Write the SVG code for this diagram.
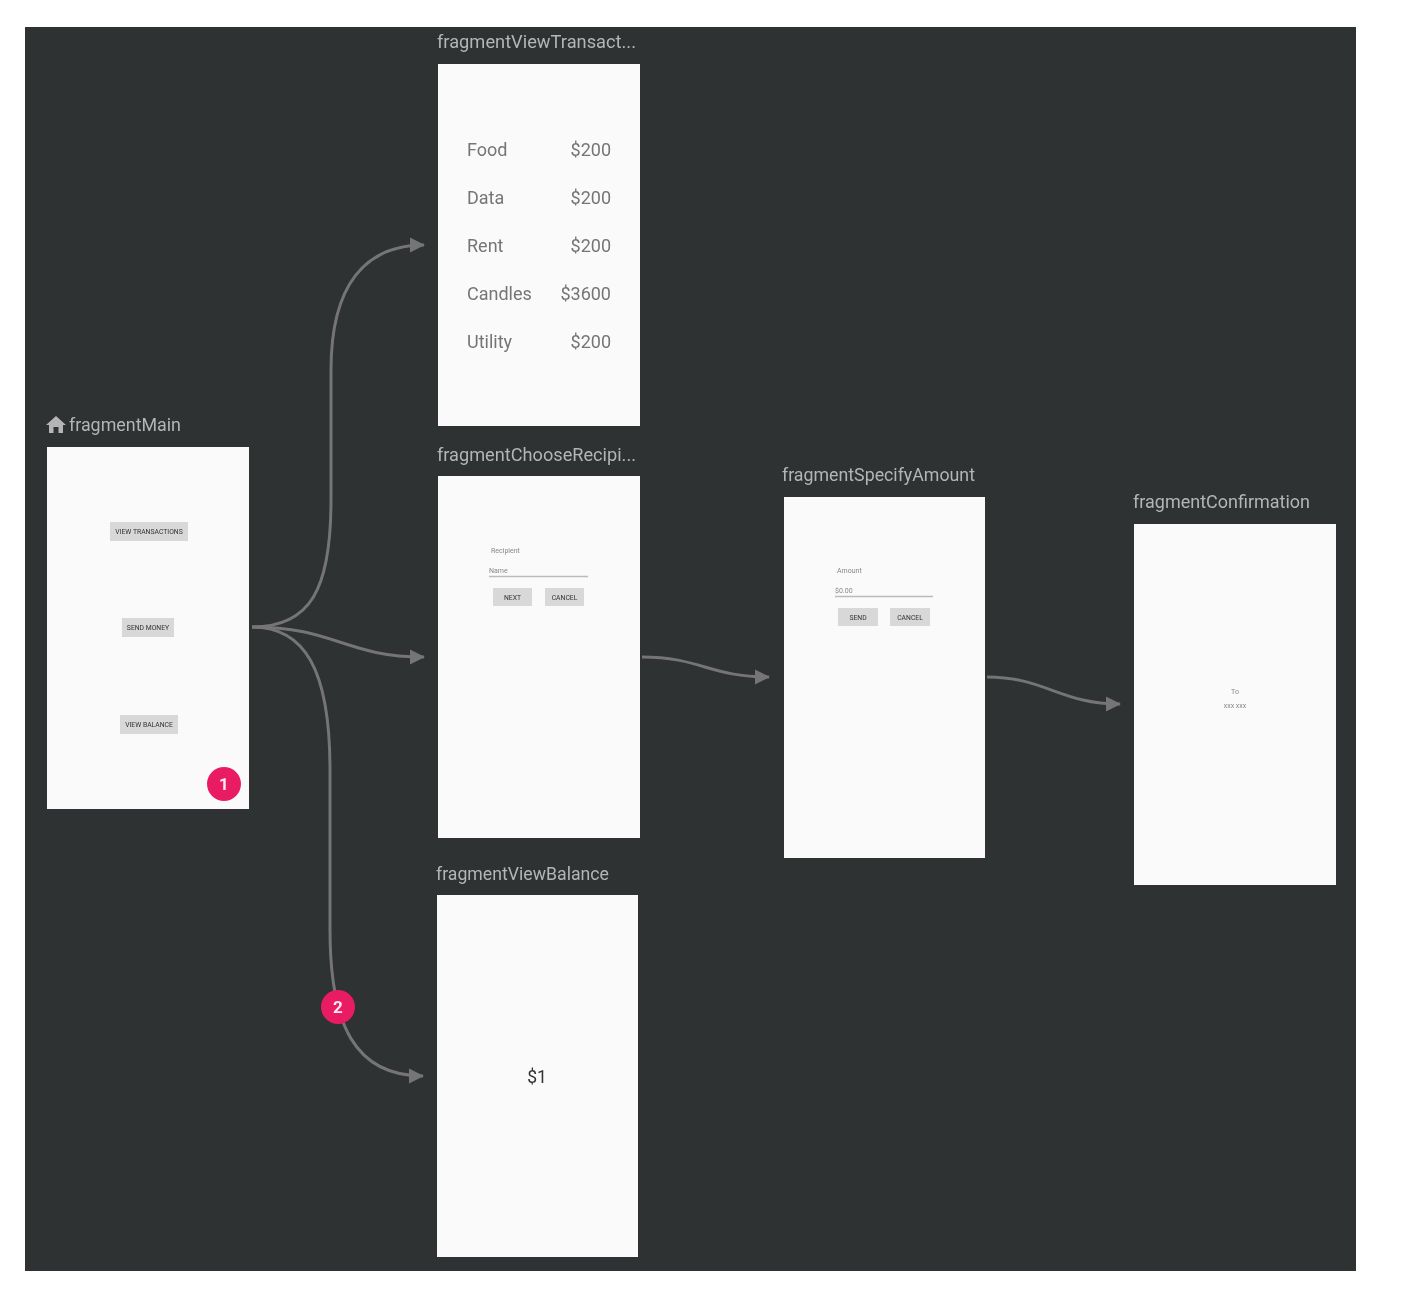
<svg xmlns="http://www.w3.org/2000/svg" width="1411" height="1292" viewBox="0 0 1411 1292">
<style>
text{font-family:Roboto,"Liberation Sans",sans-serif}
.screen{fill:#fafafa}
.title{fill:#b4b5b6;font-size:17.5px}
.row{fill:#757575;font-size:18px}
.btn{fill:#d8d8d8}
.btxt{fill:#333;font-size:6.8px;text-anchor:middle}
.small{fill:#888;font-size:7px}
.line{stroke:#bbb;stroke-width:1.3}
.conn{fill:none;stroke:#757575;stroke-width:3;marker-end:url(#arrow)}
.badge{fill:#e91e63}
.num{fill:#fbe9ef;font-size:17px;font-weight:700;text-anchor:middle}
</style>
<defs>
<marker id="arrow" markerUnits="userSpaceOnUse" markerWidth="16" markerHeight="16" refX="14" refY="8" orient="auto"><path d="M0 0.500L15 8L0 15.500Z" fill="#757575"/></marker>
<filter id="soft" x="-2%" y="-2%" width="104%" height="104%"><feGaussianBlur stdDeviation="0.7"/></filter>
</defs>
<rect width="1411" height="1292" fill="#ffffff"/>
<g filter="url(#soft)">
<rect id="canvas" x="25" y="27" width="1331" height="1244" fill="#2f3032"/>
<g id="connectors">
<path class="conn" d="M252 627C310 627 331 590 331 500V370C331 285 365 245 424 245"/>
<path class="conn" d="M252 627C335 627 345 657 424 657"/>
<path class="conn" d="M252 627C305 627 330 670 330 770V930C330 1025 355 1076 423 1076"/>
<path class="conn" d="M642 657C700 657 710 677 769 677"/>
<path class="conn" d="M987 677C1045 677 1060 704 1120 704"/>
</g>
<g id="fragmentMain">
<path d="M46 425L56 416L66 425H63V433H58.500V427H53.500V433H49V425Z" fill="#b4b5b6"/>
<text class="title" x="69" y="431" textLength="112" lengthAdjust="spacingAndGlyphs">fragmentMain</text>
<rect class="screen" x="47" y="447" width="202" height="362"/>
<rect class="btn" x="110" y="522" width="78" height="19"/>
<text class="btxt" x="149" y="534">VIEW TRANSACTIONS</text>
<rect class="btn" x="122" y="618" width="52" height="19"/>
<text class="btxt" x="148" y="630">SEND MONEY</text>
<rect class="btn" x="120" y="715" width="58" height="19"/>
<text class="btxt" x="149" y="727">VIEW BALANCE</text>
<circle class="badge" cx="224" cy="784" r="17"/>
<text class="num" x="224" y="790">1</text>
</g>
<g id="fragmentViewTransactions">
<text class="title" x="437" y="48" textLength="199" lengthAdjust="spacingAndGlyphs">fragmentViewTransact...</text>
<rect class="screen" x="438" y="64" width="202" height="362"/>
<text class="row" x="467" y="156">Food</text><text class="row" x="611" y="156" text-anchor="end">$200</text>
<text class="row" x="467" y="204">Data</text><text class="row" x="611" y="204" text-anchor="end">$200</text>
<text class="row" x="467" y="252">Rent</text><text class="row" x="611" y="252" text-anchor="end">$200</text>
<text class="row" x="467" y="300">Candles</text><text class="row" x="611" y="300" text-anchor="end">$3600</text>
<text class="row" x="467" y="348">Utility</text><text class="row" x="611" y="348" text-anchor="end">$200</text>
</g>
<g id="fragmentChooseRecipient">
<text class="title" x="437" y="461" textLength="199" lengthAdjust="spacingAndGlyphs">fragmentChooseRecipi...</text>
<rect class="screen" x="438" y="476" width="202" height="362"/>
<text class="small" x="491" y="553">Recipient</text>
<text class="small" x="489" y="573">Name</text>
<line class="line" x1="489" y1="576.500" x2="588" y2="576.500"/>
<rect class="btn" x="493" y="588" width="39" height="18"/>
<text class="btxt" x="512.500" y="599.500">NEXT</text>
<rect class="btn" x="545" y="588" width="39" height="18"/>
<text class="btxt" x="564.500" y="599.500">CANCEL</text>
</g>
<g id="fragmentViewBalance">
<text class="title" x="436" y="880" textLength="173" lengthAdjust="spacingAndGlyphs">fragmentViewBalance</text>
<rect class="screen" x="437" y="895" width="201" height="362"/>
<text x="537" y="1083" fill="#333" font-size="17.500" text-anchor="middle">$1</text>
</g>
<g id="fragmentSpecifyAmount">
<text class="title" x="782" y="481" textLength="193" lengthAdjust="spacingAndGlyphs">fragmentSpecifyAmount</text>
<rect class="screen" x="784" y="497" width="201" height="361"/>
<text class="small" x="837" y="573">Amount</text>
<text class="small" x="835" y="593">$0.00</text>
<line class="line" x1="835" y1="596.500" x2="933" y2="596.500"/>
<rect class="btn" x="838" y="608" width="40" height="18"/>
<text class="btxt" x="858" y="619.500">SEND</text>
<rect class="btn" x="890" y="608" width="40" height="18"/>
<text class="btxt" x="910" y="619.500">CANCEL</text>
</g>
<g id="fragmentConfirmation">
<text class="title" x="1133" y="508" textLength="177" lengthAdjust="spacingAndGlyphs">fragmentConfirmation</text>
<rect class="screen" x="1134" y="524" width="202" height="361"/>
<text class="small" x="1235" y="694" text-anchor="middle">To</text>
<text class="small" x="1235" y="708" text-anchor="middle">xxx xxx</text>
</g>
<g id="badge2">
<circle class="badge" cx="338" cy="1007" r="17"/>
<text class="num" x="338" y="1013">2</text>
</g>
</g>
</svg>
